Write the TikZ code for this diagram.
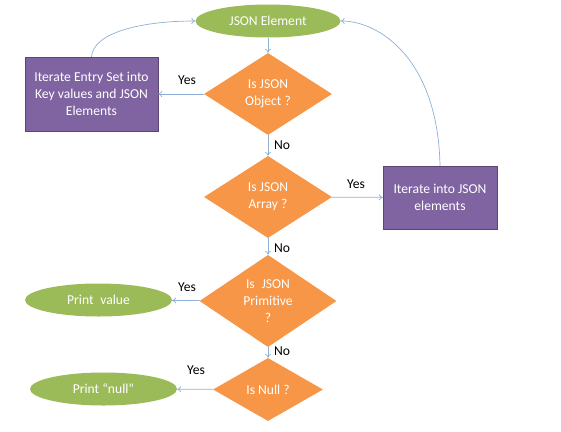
\documentclass[tikz,border=0pt]{standalone}
\usepackage{fontspec}
\setmainfont{Carlito}
\usetikzlibrary{shapes.geometric,arrows.meta}
\definecolor{jgreen}{HTML}{9BBB59}
\definecolor{jorange}{HTML}{F79646}
\definecolor{jpurple}{HTML}{8064A2}
\definecolor{jline}{HTML}{8DB0DA}
\begin{document}
\begin{tikzpicture}[x=1pt,y=-1pt,
  font=\fontsize{13.6}{17}\selectfont,
  oval/.style={ellipse,fill=jgreen,text=white,inner sep=0pt,minimum width=147pt,minimum height=33pt},
  dia/.style={diamond,fill=jorange,text=white,inner sep=0pt,align=center},
  pbox/.style={rectangle,fill=jpurple,text=white,inner sep=0pt,align=center,draw=jpurple!70!black,line width=0.3pt},
  conn/.style={draw=jline,line width=0.7pt,-{To[length=4pt,width=6pt]}},
  lbl/.style={text=black,inner sep=0pt}]
\useasboundingbox (0,0) rectangle (561,431);
\node[oval,minimum width=145pt] (json) at (268,21) {JSON Element};
\node[dia,minimum width=128pt,minimum height=82pt] (d1) at (268,94) {Is JSON\\Object ?};
\node[pbox,minimum width=133pt,minimum height=74pt] (b1) at (91.5,94) {Iterate Entry Set into\\Key values and JSON\\Elements};
\node[dia,minimum width=128pt,minimum height=82pt] (d2) at (268,197) {Is JSON\\Array ?};
\node[pbox,minimum width=114pt,minimum height=63pt] (b2) at (440,197.5) {Iterate into JSON\\elements};
\node[dia,minimum width=137pt,minimum height=82pt] (d3) at (268,301) {Is\enspace JSON\\Primitive\\?};
\node[oval] (pv) at (98.5,300) {Print\enspace value};
\node[dia,minimum width=110pt,minimum height=63pt] (d4) at (268,389.5) {Is Null ?};
\node[oval] (pn) at (103.5,389) {Print “null”};
\draw[conn] (json) -- (d1);
\draw[conn] (d1) -- (b1);
\draw[conn] (d1) -- (d2);
\draw[conn] (d2) -- (b2);
\draw[conn] (d2) -- (d3);
\draw[conn] (d3) -- (pv);
\draw[conn] (d3) -- (d4);
\draw[conn] (d4) -- (pn);
\draw[conn] (b1.north) .. controls (93,33) and (140,21) .. (json.west);
\draw[conn] (b2.north) .. controls (438,60) and (380,21) .. (json.east);
\node[lbl] (y1) at (187,80) {Yes};
\node[lbl] (n1) at (282,145) {No};
\node[lbl] (y2) at (356,184) {Yes};
\node[lbl] (n2) at (282,248) {No};
\node[lbl] (y3) at (187,287) {Yes};
\node[lbl] (n3) at (282,351) {No};
\node[lbl] (y4) at (196,370) {Yes};
\end{tikzpicture}
\end{document}
